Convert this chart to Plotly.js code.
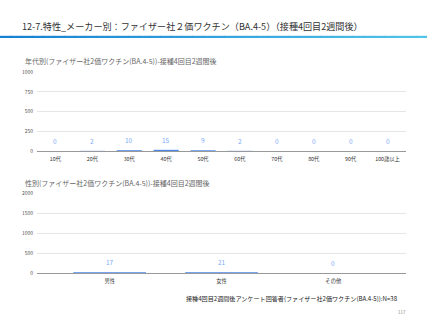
<!DOCTYPE html>
<html>
<head>
<meta charset="utf-8">
<script src="https://cdn.plot.ly/plotly-3.0.1.min.js"></script>
<style>
html,body{margin:0;padding:0;background:#fff;}
#chart{width:427px;height:320px;}
</style>
</head>
<body>
<div id="chart"></div>
<script>
const ageCategories = ["10代","20代","30代","40代","50代","60代","70代","80代","90代","100歳以上"];
const ageValues = [0,2,10,15,9,2,0,0,0,0];
const sexCategories = ["男性","女性","その他"];
const sexValues = [17,21,0];
const ageTicks = [0,250,500,750,1000];
const sexTicks = [0,500,1000,1500,2000];

const pageTitle = "12-7.特性_メーカー別：ファイザー社２価ワクチン（BA.4-5）（接種4回目2週間後）";
const ageTitle = "年代別(ファイザー社2価ワクチン(BA.4-5))-接種4回目2週間後";
const sexTitle = "性別(ファイザー社2価ワクチン(BA.4-5))-接種4回目2週間後";
const footnote = "接種4回目2週間後アンケート回答者(ファイザー社2価ワクチン(BA.4-5)):N=38";
const pageNo = "117";

const FONT = "Noto Sans CJK JP, Noto Sans, sans-serif";
const barColor = "#4a86e8";
const labelColor = "#7baaf7";

const traces = [
  {type:"bar", x:ageCategories, y:ageValues, xaxis:"x", yaxis:"y",
   marker:{color:barColor}, width:0.68, hoverinfo:"none"},
  {type:"bar", x:sexCategories, y:sexValues, xaxis:"x2", yaxis:"y2",
   marker:{color:barColor}, width:0.65, hoverinfo:"none"}
];

const annotations = [];
ageCategories.forEach((c,i)=>{
  annotations.push({xref:"x", yref:"y", x:c, y:ageValues[i], text:String(ageValues[i]),
    showarrow:false, yshift:10, font:{family:FONT,size:6.5,color:labelColor}});
});
sexCategories.forEach((c,i)=>{
  annotations.push({xref:"x2", yref:"y2", x:c, y:sexValues[i], text:String(sexValues[i]),
    showarrow:false, yshift:10, font:{family:FONT,size:6.5,color:labelColor}});
});
annotations.push(
  {xref:"paper", yref:"paper", x:20/427, y:1-25.5/320, xanchor:"left", yanchor:"middle",
   text:pageTitle, showarrow:false, font:{family:FONT,size:9.1,color:"#333"}},
  {xref:"paper", yref:"paper", x:23/427, y:1-61/320, xanchor:"left", yanchor:"middle",
   text:ageTitle, showarrow:false, font:{family:FONT,size:7,color:"#666"}},
  {xref:"paper", yref:"paper", x:23/427, y:1-183/320, xanchor:"left", yanchor:"middle",
   text:sexTitle, showarrow:false, font:{family:FONT,size:7,color:"#666"}},
  {xref:"paper", yref:"paper", x:400/427, y:1-298/320, xanchor:"right", yanchor:"middle",
   text:footnote, showarrow:false, font:{family:FONT,size:6.1,color:"#222"}},
  {xref:"paper", yref:"paper", x:408/427, y:1-312/320, xanchor:"right", yanchor:"middle",
   text:pageNo, showarrow:false, font:{family:FONT,size:4.5,color:"#888"}}
);

// gradient rule under the title (decoration)
const shapes = [];
const nSeg = 40;
const c0 = [22,128,210], c1 = [80,196,232];
for (let k=0;k<nSeg;k++){
  const t = k/(nSeg-1);
  const col = `rgb(${Math.round(c0[0]+(c1[0]-c0[0])*t)},${Math.round(c0[1]+(c1[1]-c0[1])*t)},${Math.round(c0[2]+(c1[2]-c0[2])*t)})`;
  shapes.push({type:"rect", xref:"paper", yref:"paper", x0:k/nSeg, x1:(k+1)/nSeg+0.002,
    y0:1-38/320, y1:1-35.8/320, line:{width:0}, fillcolor:col, layer:"above"});
}

const axX = {
  type:"category", showgrid:false, zeroline:false, showline:false,
  ticks:"", ticklabelstandoff:4, tickfont:{family:FONT,size:5.3,color:"#333"}, fixedrange:true
};
const axY = {
  showgrid:true, gridcolor:"#e6e6e6", gridwidth:1, zeroline:true, zerolinecolor:"#999",
  zerolinewidth:1, showline:false, ticks:"", ticklabelstandoff:3,
  tickfont:{family:FONT,size:5,color:"#555"}, fixedrange:true, tickmode:"array"
};

const layout = {
  width:427, height:320, margin:{l:0,r:0,t:0,b:0},
  paper_bgcolor:"#fff", plot_bgcolor:"#fff", showlegend:false,
  font:{family:FONT},
  xaxis:Object.assign({}, axX, {domain:[37/427,406/427], anchor:"y", range:[-0.5,9.5]}),
  yaxis:Object.assign({}, axY, {domain:[1-151/320,1-72/320], anchor:"x", range:[0,1000],
    tickvals:ageTicks, ticktext:ageTicks.map(String)}),
  xaxis2:Object.assign({}, axX, {domain:[37/427,406/427], anchor:"y2", range:[-0.65,2.65]}),
  yaxis2:Object.assign({}, axY, {domain:[1-273/320,1-193/320], anchor:"x2", range:[0,2000],
    tickvals:sexTicks, ticktext:sexTicks.map(String)}),
  annotations:annotations, shapes:shapes, bargap:0.3
};

Plotly.newPlot("chart", traces, layout, {staticPlot:true, displayModeBar:false});
</script>
</body>
</html>
